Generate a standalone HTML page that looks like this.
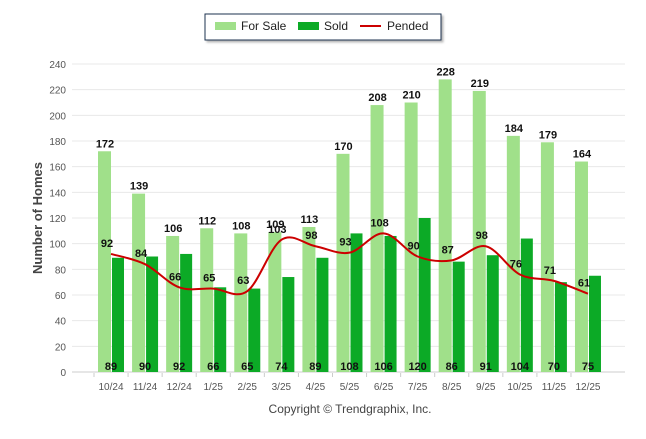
<!DOCTYPE html>
<html><head><meta charset="utf-8"><style>
body{margin:0;background:#fff;width:646px;height:434px;overflow:hidden;font-family:"Liberation Sans",sans-serif}
svg text{font-family:"Liberation Sans",sans-serif}
</style></head><body>
<svg id="chart" width="646" height="434" xmlns="http://www.w3.org/2000/svg">
<defs><filter id="sh" x="-5%" y="-10%" width="115%" height="140%"><feDropShadow dx="2" dy="2" stdDeviation="1" flood-color="#888" flood-opacity="0.6"/></filter></defs>
<g id="grid"></g>
<g id="yticks"></g>
<g id="bars"></g>
<g id="line"></g>
<g id="xticks"></g>
<text transform="translate(42,218) rotate(-90)" text-anchor="middle" font-size="13" font-weight="bold" fill="#444">Number of Homes</text>
<text x="350" y="413" text-anchor="middle" font-size="12" fill="#444">Copyright © Trendgraphix, Inc.</text>
<g>
<rect x="205" y="14" width="236" height="26" fill="#fff" stroke="#1f3050" stroke-width="1" filter="url(#sh)"/>
<rect x="215" y="22" width="21" height="8" fill="#a0e08a"/>
<text x="241" y="30" font-size="12" fill="#222">For Sale</text>
<rect x="298" y="22" width="21" height="8" fill="#0caa26"/>
<text x="324" y="30" font-size="12" fill="#222">Sold</text>
<rect x="360" y="25" width="21" height="2" fill="#cc0000"/>
<text x="387" y="30" font-size="12" fill="#222">Pended</text>
</g>
</svg>
<script>
const categories=["10/24","11/24","12/24","1/25","2/25","3/25","4/25","5/25","6/25","7/25","8/25","9/25","10/25","11/25","12/25"];
const forSale=[172,139,106,112,108,109,113,170,208,210,228,219,184,179,164];
const sold=[89,90,92,66,65,74,89,108,106,120,86,91,104,70,75];
const pended=[92,84,66,65,63,103,98,93,108,90,87,98,76,71,61];
const yTicks=[0,20,40,60,80,100,120,140,160,180,200,220,240];
const NS="http://www.w3.org/2000/svg";
function y(v){return 372-v*(308/240);}
function x(i){return 111+i*34.07;}
function mk(tag,attrs,parent,txt){const e=document.createElementNS(NS,tag);for(const k in attrs)e.setAttribute(k,attrs[k]);if(txt!==undefined)e.textContent=txt;document.getElementById(parent).appendChild(e);return e;}
yTicks.forEach(t=>{
 const g=mk('line',{x1:72,x2:625,y1:y(t),y2:y(t),stroke:t===0?'#ccc':'#e8e8e8','stroke-width':1},'grid');
 
 
 const l=mk('text',{x:66,y:y(t)+4,'text-anchor':'end','font-size':10,fill:'#555'},'yticks',t);
 
 
});
categories.forEach((c,i)=>{
 const a=mk('rect',{x:x(i)-13,y:y(forSale[i]),width:13,height:y(0)-y(forSale[i]),fill:'#a0e08a'},'bars');
 
 
 const b=mk('rect',{x:x(i)+1,y:y(sold[i]),width:12,height:y(0)-y(sold[i]),fill:'#0caa26'},'bars');
 
 
 const t1=mk('text',{x:x(i)-6,y:y(forSale[i])-4,'text-anchor':'middle','font-size':11,'font-weight':'bold',fill:'#111'},'bars',forSale[i]);
 
 
 const t2=mk('text',{x:x(i),y:370,'text-anchor':'middle','font-size':11,'font-weight':'bold',fill:'#111'},'bars',sold[i]);
 
 
 const xl=mk('text',{x:x(i),y:390,'text-anchor':'middle','font-size':10,fill:'#555'},'xticks',c);
 
 
 const tk=mk('line',{x1:x(i)-17,x2:x(i)-17,y1:373,y2:377,stroke:'#ccc'},'xticks');
 
 
});
const pts=pended.map((v,i)=>[x(i),y(v)]);
let d=`M${pts[0][0]},${pts[0][1]}`;
for(let i=0;i<pts.length-1;i++){
 const p0=pts[Math.max(0,i-1)],p1=pts[i],p2=pts[i+1],p3=pts[Math.min(pts.length-1,i+2)];
 const k=0.5/3;
 d+=` C${p1[0]+(p2[0]-p0[0])*k},${p1[1]+(p2[1]-p0[1])*k} ${p2[0]-(p3[0]-p1[0])*k},${p2[1]-(p3[1]-p1[1])*k} ${p2[0]},${p2[1]}`;
}
const pl=mk('path',{d:d,fill:'none',stroke:'#cc0000','stroke-width':2},'line');


pended.forEach((v,i)=>{
 const t=mk('text',{x:x(i)-4,y:y(v)-7,'text-anchor':'middle','font-size':11,'font-weight':'bold',fill:'#111'},'line',v);
 
 
});
</script>
</body></html>
